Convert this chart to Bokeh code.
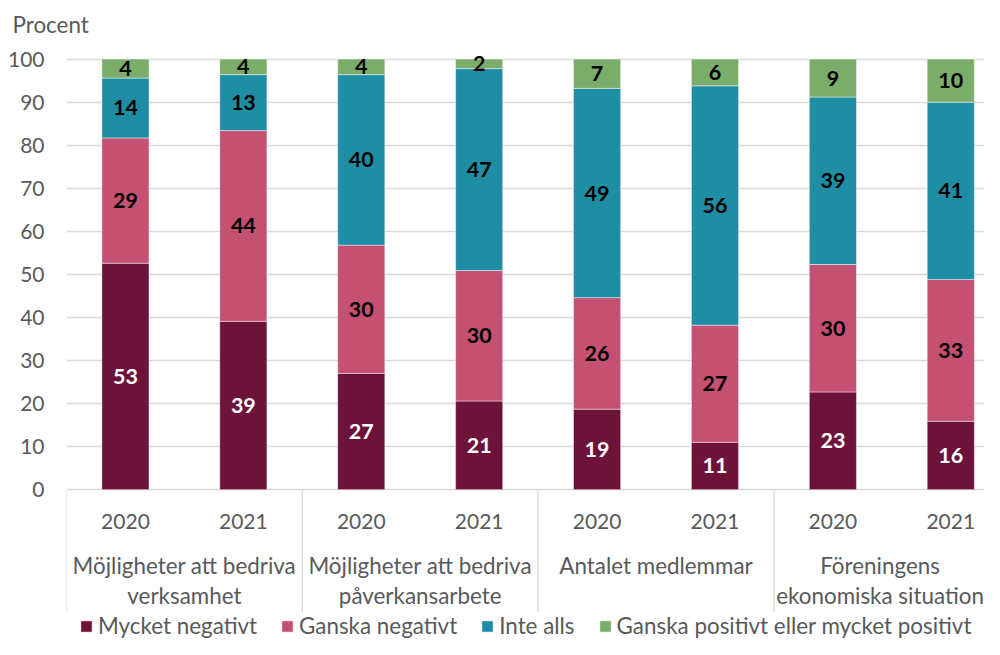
from bokeh.plotting import figure
from bokeh.models import Range1d, FixedTicker, ColumnDataSource, Legend, LegendItem
from bokeh.core.properties import value
from bokeh.embed import file_html
from bokeh.resources import INLINE

# ---------------- data ----------------
years = ["2020", "2021", "2020", "2021", "2020", "2021", "2020", "2021"]
group_lines = [
    ["Möjligheter att bedriva", "verksamhet"],
    ["Möjligheter att bedriva", "påverkansarbete"],
    ["Antalet medlemmar"],
    ["Föreningens", "ekonomiska situation"],
]
series_names = ["Mycket negativt", "Ganska negativt", "Inte alls",
                "Ganska positivt eller mycket positivt"]
mycket_negativt = [52.6, 39.1, 27.0, 20.6, 18.7, 11.0, 22.7, 15.9]
ganska_negativt = [29.1, 44.3, 29.8, 30.3, 25.9, 27.2, 29.6, 32.9]
inte_alls = [13.9, 13.0, 39.6, 46.9, 48.6, 55.6, 38.9, 41.2]
ganska_positivt = [4.4, 3.6, 3.6, 2.2, 6.8, 6.2, 8.8, 10.0]
y_ticks = [0, 10, 20, 30, 40, 50, 60, 70, 80, 90, 100]

colors = ["#6d133a", "#c45072", "#1f8ea5", "#7aac6a"]
label_colors = ["white", "black", "black", "black"]
FONT = "Lato"
GRAY = "#595959"
GRID = "#d9d9d9"
TXT = "22.4px"
NUM = "21px"

series = [mycket_negativt, ganska_negativt, inte_alls, ganska_positivt]
keys = ["s0", "s1", "s2", "s3"]
xs = [i + 0.5 for i in range(len(years))]

src = ColumnDataSource(dict(x=xs, **{k: v for k, v in zip(keys, series)}))

p = figure(width=984, height=639, output_backend="svg", toolbar_location=None,
           x_range=Range1d(0, 7.786), y_range=Range1d(-34.8, 102),
           x_axis_location=None, min_border_left=66, min_border_right=0,
           min_border_top=50, min_border_bottom=0)
p.outline_line_color = None
p.background_fill_color = "white"
p.border_fill_color = "white"

p.title.text = "Procent"
p.title.align = "left"
p.title.vertical_align = "top"
p.title.offset = -54
p.title.standoff = 21
p.title.text_font = FONT
p.title.text_font_size = TXT
p.title.text_font_style = "normal"
p.title.text_color = GRAY

renderers = p.vbar_stack(keys, x="x", width=0.4, source=src, color=colors,
                         line_color="white", line_alpha=0.45, line_width=1)

# y axis
p.yaxis.ticker = FixedTicker(ticks=y_ticks)
p.yaxis.axis_line_color = None
p.yaxis.major_tick_line_color = None
p.yaxis.minor_tick_line_color = None
p.yaxis.major_tick_out = 0
p.yaxis.major_tick_in = 0
p.yaxis.minor_tick_out = 0
p.yaxis.major_label_standoff = 22
p.yaxis.major_label_text_font = FONT
p.yaxis.major_label_text_font_size = NUM
p.yaxis.major_label_text_color = GRAY
p.xgrid.grid_line_color = None
p.ygrid.grid_line_color = GRID
p.ygrid.grid_line_width = 1.3

# data labels
lx, ly, lt, lc = [], [], [], []
for i in range(len(years)):
    base = 0.0
    for s, col in zip(series, label_colors):
        v = s[i]
        lx.append(xs[i]); ly.append(base + v / 2); lt.append(f"{v:.0f}"); lc.append(col)
        base += v
p.text(x=lx, y=ly, text=lt, text_color=lc, text_font=value(FONT),
       text_font_style="bold", text_font_size="21.5px", text_align="center",
       text_baseline="middle")

# category separators below axis
p.segment(x0=[0, 2, 4, 6], y0=[0] * 4, x1=[0, 2, 4, 6], y1=[-28.45] * 4,
          line_color=GRID, line_width=1.3)

# year labels
p.text(x=xs, y=[-7.35] * len(xs), text=years, text_align="center",
       text_baseline="alphabetic", text_font=value(FONT),
       text_font_size=NUM, text_color=GRAY)

# group labels (last one nudged left so it fits inside the canvas)
group_x = [1.0, 3.0, 5.0, 6.9]
gx_l, gy_l, gt_l = [], [], []
for gx, lines in zip(group_x, group_lines):
    for j, line in enumerate(lines):
        gx_l.append(gx); gy_l.append(-17.65 - 6.97 * j); gt_l.append(line)
p.text(x=gx_l, y=gy_l, text=gt_l, text_align="center", text_baseline="alphabetic",
       text_font=value(FONT), text_font_size=TXT, text_color=GRAY)

legend = Legend(items=[LegendItem(label=n, renderers=[r]) for n, r in zip(series_names, renderers)],
                orientation="horizontal", location=(13, 0), glyph_width=14,
                glyph_height=14, label_text_font=FONT, label_text_font_size=TXT,
                label_text_color=GRAY, spacing=23, padding=0, margin=0,
                label_standoff=5, border_line_color=None, background_fill_alpha=0)
p.add_layout(legend)

open("out.html", "w").write(file_html(p, INLINE))
